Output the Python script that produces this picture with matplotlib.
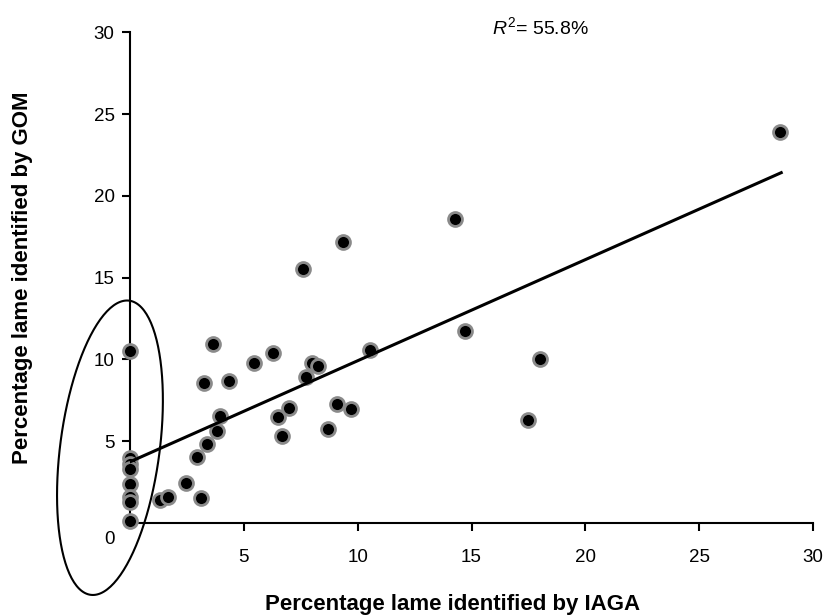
import numpy as np
import matplotlib
matplotlib.use("Agg")
import matplotlib.pyplot as plt

plt.rcParams['font.family'] = ['Liberation Sans', 'DejaVu Sans']
plt.rcParams['mathtext.fontset'] = 'custom'
plt.rcParams['mathtext.rm'] = 'Liberation Sans'
plt.rcParams['mathtext.it'] = 'Liberation Sans:italic'

# Percentage lame identified by IAGA (x) and by GOM (y)
iaga = [0, 0, 0, 0, 0, 0, 0, 0,
        1.3, 1.67, 2.46, 3.12, 2.94, 3.4, 3.8, 3.95, 3.25, 4.35, 3.65,
        5.45, 6.27, 6.5, 6.68, 6.98, 7.73, 7.99, 8.26, 8.7, 9.1, 9.7,
        10.54, 7.6, 9.35, 14.27, 14.7, 18.0, 17.47, 28.55]
gom = [10.5, 4.0, 3.6, 3.3, 2.4, 1.6, 1.3, 0.1,
       1.4, 1.6, 2.45, 1.55, 4.05, 4.85, 5.6, 6.55, 8.55, 8.65, 10.95,
       9.75, 10.4, 6.5, 5.3, 7.0, 8.95, 9.8, 9.6, 5.75, 7.25, 6.95,
       10.55, 15.5, 17.2, 18.6, 11.75, 10.0, 6.3, 23.9]

# fitted line as drawn on the chart
fit_intercept = 3.74
fit_slope = 0.618
fit_x = [0, 28.6]
r2_text = '$R^2$= 55.8%'

x_ticks = [5, 10, 15, 20, 25, 30]
y_ticks = [5, 10, 15, 20, 25, 30]

fig = plt.figure(figsize=(8.28, 6.15), dpi=100)
ax = fig.add_axes([0.157, 0.1496, 0.825, 0.798])

ax.plot(iaga, gom, 'o', color='black', markersize=10,
        markeredgecolor='#8a8a8a', markeredgewidth=2.0, zorder=3,
        clip_on=False)

fx = np.array(fit_x)
ax.plot(fx, fit_intercept + fit_slope * fx, color='black', linewidth=2.2,
        zorder=4)

ax.set_xlim(0, 30)
ax.set_ylim(0, 30)
ax.set_xticks(x_ticks)
ax.set_yticks(y_ticks)
ax.tick_params(direction='out', length=6, width=1.5, labelsize=13.5,
               colors='black', pad=5)
ax.tick_params(axis='x', pad=13)
ax.annotate('0', xy=(0, 0), xytext=(-11, -12), textcoords='offset points',
            ha='right', va='center', fontsize=13.5, annotation_clip=False)

for side in ['top', 'right']:
    ax.spines[side].set_visible(False)
for side in ['left', 'bottom']:
    ax.spines[side].set_linewidth(1.5)

ax.set_xlabel('Percentage lame identified by IAGA', fontsize=16,
              fontweight='bold', va='center')
ax.xaxis.set_label_coords(0.472, -0.167)
ax.set_ylabel('Percentage lame identified by GOM', fontsize=16,
              fontweight='bold', va='center')
ax.yaxis.set_label_coords(-0.158, 0.5)

ax.text(15.9, 30.3, r2_text, fontsize=14, ha='left', va='center')

# hand drawn loop around the points on the y axis
t = np.linspace(0, 2 * np.pi, 200)
lx = -0.88 + 2.2 * np.cos(t) + 0.75 * np.sin(t)
ly = 4.6 + 9.0 * np.sin(t)
ax.plot(lx, ly, color='black', linewidth=1.5, clip_on=False, zorder=5)

fig.savefig('out.png', dpi=100)
